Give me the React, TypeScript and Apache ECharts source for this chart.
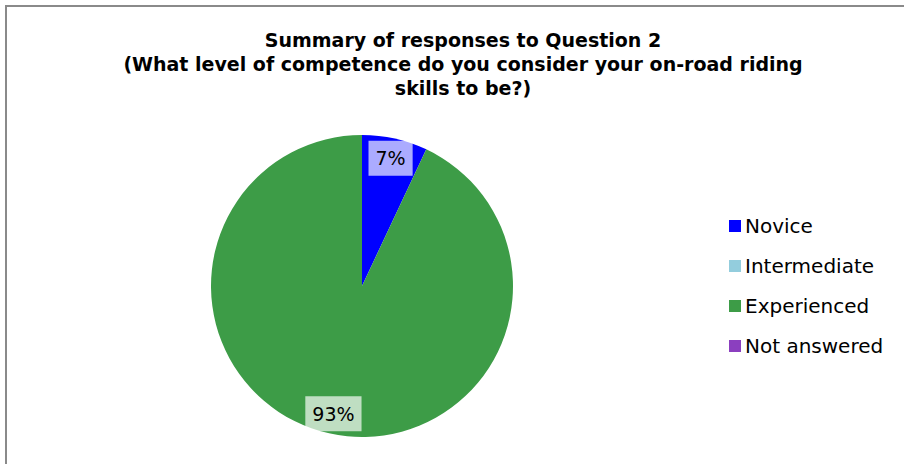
import React, { useEffect, useRef } from "react";
import * as echarts from "echarts";

const categories = ["Novice", "Intermediate", "Experienced", "Not answered"];
const values = [7, 0, 93, 0];
const colors = ["#0000FF", "#93CDDD", "#3D9C47", "#8B3FBF"];
const titleLines = [
  "Summary of responses to Question 2",
  "(What level of competence do you consider your on-road riding",
  "skills to be?)",
];

export default function App() {
  const ref = useRef<HTMLDivElement>(null);
  useEffect(() => {
    if (!ref.current) return;
    const chart = echarts.init(ref.current, undefined, { renderer: "svg" });
    const font = "DejaVu Sans";
    const mainData = categories.map((c, i) => ({
      name: c,
      value: values[i],
      itemStyle: { color: colors[i] },
    }));
    const labelData = categories.map((c, i) => ({
      name: c,
      value: values[i],
      label: { show: values[i] > 0 },
    }));
    chart.setOption({
      animation: false,
      backgroundColor: "#ffffff",
      title: {
        text: titleLines.join("\n"),
        left: 458,
        top: 23,
        textAlign: "center",
        textStyle: {
          fontFamily: font,
          fontSize: 19,
          fontWeight: "bold",
          color: "#000",
          lineHeight: 24,
        },
      },
      legend: {
        orient: "vertical",
        left: 724,
        top: 211,
        icon: "rect",
        itemWidth: 12,
        itemHeight: 12,
        itemGap: 20,
        data: categories,
        textStyle: {
          fontFamily: font,
          fontSize: 20,
          lineHeight: 20,
          color: "#000",
          padding: [0, 0, 0, -1],
        },
      },
      graphic: [
        {
          type: "rect",
          shape: { x: 6, y: 6, width: 940, height: 500 },
          style: { fill: "none", stroke: "#8a8a8a", lineWidth: 2 },
          silent: true,
        },
      ],
      series: [
        {
          type: "pie",
          name: "main",
          center: [362, 286],
          radius: [0, 151],
          startAngle: 90,
          clockwise: true,
          label: { show: false },
          labelLine: { show: false },
          emphasis: { disabled: true },
          itemStyle: { borderWidth: 0 },
          data: mainData,
        },
        {
          type: "pie",
          name: "labels",
          center: [362, 286],
          radius: [0, 256],
          startAngle: 90,
          clockwise: true,
          silent: true,
          z: 5,
          emphasis: { disabled: true },
          itemStyle: { color: "rgba(0,0,0,0)", borderWidth: 0 },
          labelLine: { show: false },
          label: {
            position: "inside",
            formatter: "{c}%",
            fontFamily: font,
            fontSize: 19,
            color: "#000",
            backgroundColor: "rgba(255,255,255,0.67)",
            padding: [9, 7, 7, 7],
          },
          data: labelData,
        },
      ],
    });
    return () => chart.dispose();
  }, []);
  return (
    <div
      ref={ref}
      style={{ position: "absolute", left: 0, top: 0, width: 904, height: 464 }}
    />
  );
}
